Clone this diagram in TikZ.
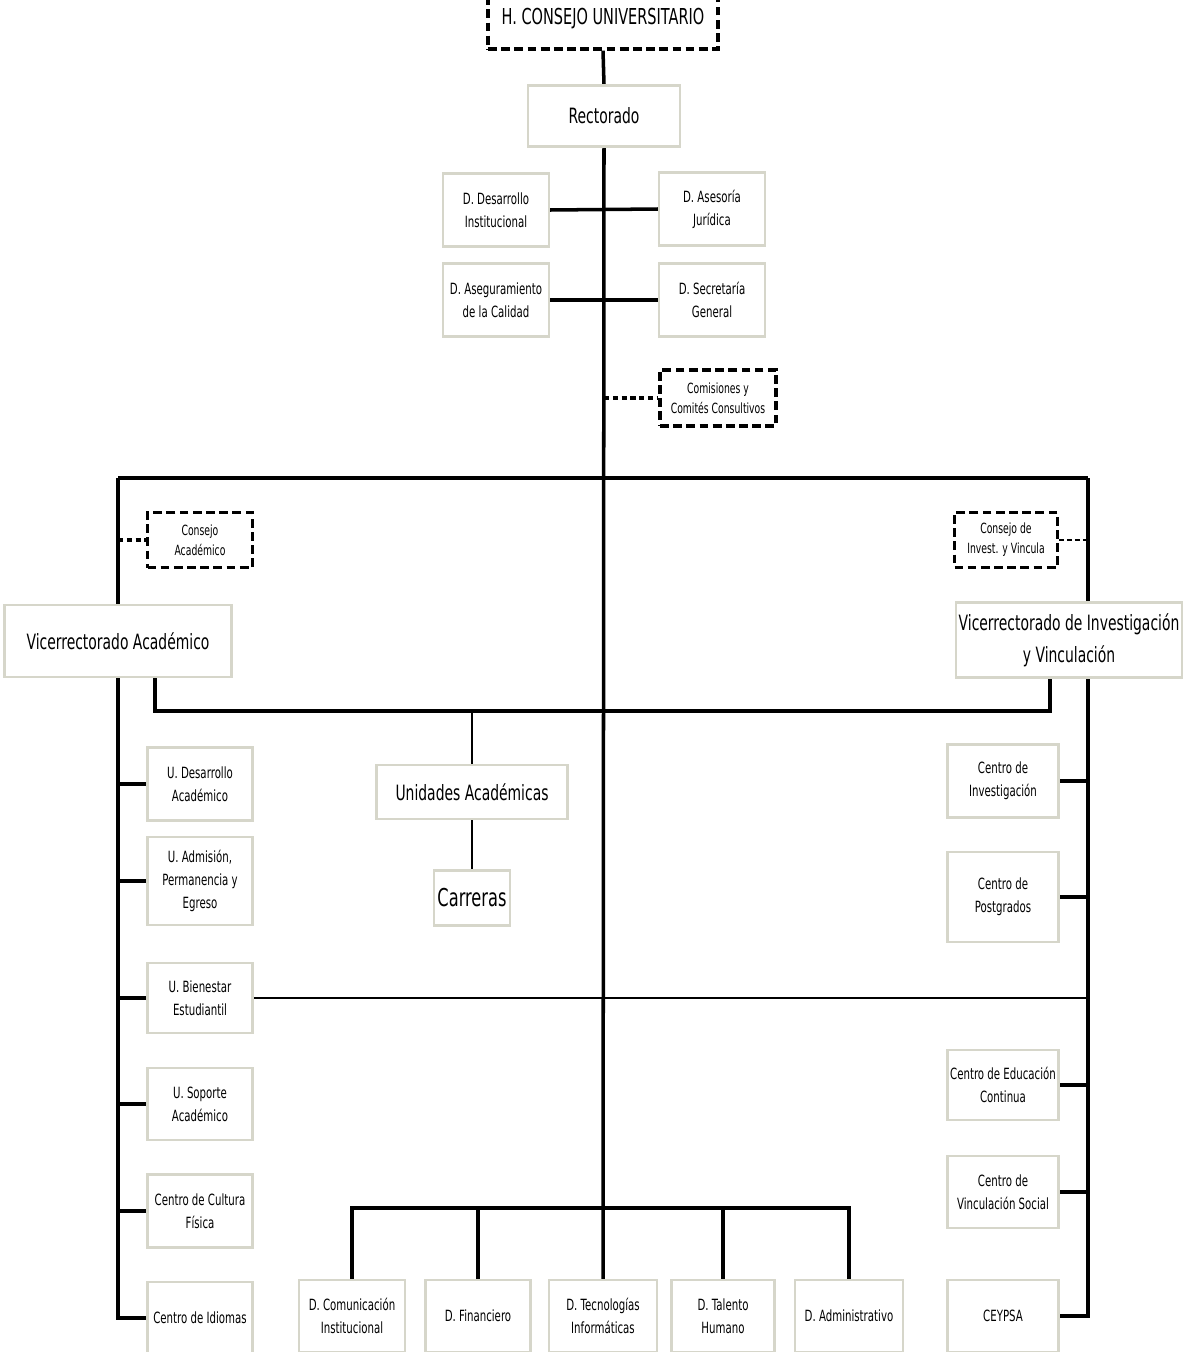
\documentclass[tikz,border=0pt]{standalone}
\usepackage{fontspec}
\newfontfamily\orgfont[FakeStretch=0.66]{DejaVu Sans}
\usetikzlibrary{backgrounds}
\definecolor{boxline}{RGB}{214,214,202}
\tikzset{
  unitbox/.style={draw=boxline,fill=white,line width=1.2pt,align=center,inner sep=1pt,font=\orgfont\fontsize{8.8}{13}\selectfont},
  bigbox/.style={unitbox,font=\orgfont\fontsize{12}{18}\selectfont},
  councilbox/.style={unitbox,draw=black,dashed,line width=1.8pt,dash pattern=on 5pt off 2.5pt,font=\orgfont\fontsize{8}{11.5}\selectfont},
  sidebox/.style={unitbox,minimum width=2.1cm},
  link/.style={line width=2pt},
  thinlink/.style={line width=1.1pt},
}
\begin{document}
\begin{tikzpicture}[x=0.02cm,y=-0.02cm]
\useasboundingbox (0,0) rectangle (1190,1352);

% Top of the chart
\node[bigbox,councilbox,font=\orgfont\fontsize{12.5}{14}\selectfont,minimum width=4.6cm,minimum height=1.2cm] (hcu) at (603,19) {H. CONSEJO UNIVERSITARIO};
\node[bigbox,minimum width=3.04cm,minimum height=1.22cm] (rect) at (604,116) {Rectorado};

\node[unitbox,minimum width=2.12cm,minimum height=1.46cm] (ddi) at (496,210) {D. Desarrollo\\Institucional};
\node[unitbox,minimum width=2.12cm,minimum height=1.46cm] (daj) at (712,209) {D. Asesoría\\Jurídica};
\node[unitbox,minimum width=2.12cm,minimum height=1.46cm] (dac) at (496,300) {D. Aseguramiento\\de la Calidad};
\node[unitbox,minimum width=2.12cm,minimum height=1.46cm] (dsg) at (712,300) {D. Secretaría\\General};

\node[councilbox,minimum width=2.32cm,minimum height=1.12cm] (com) at (718,398) {Comisiones y\\Comités Consultivos};

% Vice-rectorates
\node[councilbox,minimum width=2.1cm,minimum height=1.1cm] (cac) at (200,540) {Consejo\\Académico};
\node[councilbox,minimum width=2.06cm,minimum height=1.1cm] (civ) at (1006,540) {Consejo de\\Invest. y Vincula};
\node[bigbox,minimum width=4.54cm,minimum height=1.44cm] (va) at (118,641) {Vicerrectorado Académico};
\node[bigbox,minimum width=4.52cm,minimum height=1.5cm] (vi) at (1069,640) {Vicerrectorado de Investigación\\y Vinculación};

\node[bigbox,minimum width=3.82cm,minimum height=1.08cm] (ua) at (472,792) {Unidades Académicas};
\node[bigbox,font=\orgfont\fontsize{14}{16}\selectfont,minimum width=1.52cm,minimum height=1.1cm] (car) at (472,898) {Carreras};

% Left column
\node[sidebox,minimum height=1.46cm] (uda) at (200,784) {U. Desarrollo\\Académico};
\node[sidebox,minimum height=1.76cm] (uap) at (200,881) {U. Admisión,\\Permanencia y\\Egreso};
\node[sidebox,minimum height=1.4cm] (ube) at (200,998) {U. Bienestar\\Estudiantil};
\node[sidebox,minimum height=1.44cm] (uso) at (200,1104) {U. Soporte\\Académico};
\node[sidebox,minimum height=1.46cm] (ccf) at (200,1211) {Centro de Cultura\\Física};
\node[sidebox,minimum height=1.44cm] (cid) at (200,1318) {Centro de Idiomas};

% Right column
\node[sidebox,minimum width=2.22cm,minimum height=1.46cm] (cin) at (1003,781) {Centro de\\Investigación};
\node[sidebox,minimum width=2.22cm,minimum height=1.8cm] (cpo) at (1003,897) {Centro de\\Postgrados};
\node[sidebox,minimum width=2.22cm,minimum height=1.4cm] (ced) at (1003,1085) {Centro de Educación\\Continua};
\node[sidebox,minimum width=2.22cm,minimum height=1.44cm] (cvs) at (1003,1192) {Centro de\\Vinculación Social};
\node[sidebox,minimum width=2.22cm,minimum height=1.44cm] (cey) at (1003,1316) {CEYPSA};

% Bottom row
\node[sidebox,minimum width=2.12cm,minimum height=1.44cm] (dci) at (352,1316) {D. Comunicación\\Institucional};
\node[sidebox,minimum width=2.1cm,minimum height=1.44cm] (dfi) at (478,1316) {D. Financiero};
\node[sidebox,minimum width=2.16cm,minimum height=1.44cm] (dti) at (603,1316) {D. Tecnologías\\Informáticas};
\node[sidebox,minimum width=2.06cm,minimum height=1.44cm] (dth) at (723,1316) {D. Talento\\Humano};
\node[sidebox,minimum width=2.16cm,minimum height=1.44cm] (dad) at (849,1316) {D. Administrativo};

\coordinate (tl) at (118,478);
\coordinate (tr) at (1088,478);
\coordinate (bl) at (155,711);
\coordinate (br) at (1050,711);
\coordinate (bbar) at (0,1208);

% Connectors
\begin{scope}[on background layer]
\draw[link] (hcu.south) -- (rect.north);
\draw[link] (rect.south) -- (dti.north);
\draw[link] (ddi.east) -- (daj.west);
\draw[link] (dac.east) -- (dsg.west);
\draw[link,dash pattern=on 3pt off 2pt] (rect.south |- com.west) -- (com.west);

\draw[link] (tl) -- (tr);
\draw[link] (tl) |- (cid.west);
\draw[link] (tr) |- (cey.east);
\draw[link,dash pattern=on 3pt off 2pt] (tl |- cac.west) -- (cac.west);
\draw[thinlink,dash pattern=on 3pt off 1.5pt] (civ.east) -- (tr |- civ.east);

\draw[link] (va.south -| bl) -- (bl) -- (br) -- (vi.south -| br);
\draw[thinlink] (ua.north |- bl) -- (ua.north);
\draw[thinlink] (ua.south) -- (car.north);

\draw[link] (tl |- uda.west) -- (uda.west);
\draw[link] (tl |- uap.west) -- (uap.west);
\draw[link] (tl |- ube.west) -- (ube.west);
\draw[link] (tl |- uso.west) -- (uso.west);
\draw[link] (tl |- ccf.west) -- (ccf.west);
\draw[thinlink] (ube.east) -- (tr |- ube.east);

\draw[link] (cin.east) -- (tr |- cin.east);
\draw[link] (cpo.east) -- (tr |- cpo.east);
\draw[link] (ced.east) -- (tr |- ced.east);
\draw[link] (cvs.east) -- (tr |- cvs.east);

\draw[link] (dci.north) -- (dci.north |- bbar) -- (dad.north |- bbar) -- (dad.north);
\draw[link] (dfi.north) -- (dfi.north |- bbar);
\draw[link] (dth.north) -- (dth.north |- bbar);
\end{scope}

\end{tikzpicture}
\end{document}
